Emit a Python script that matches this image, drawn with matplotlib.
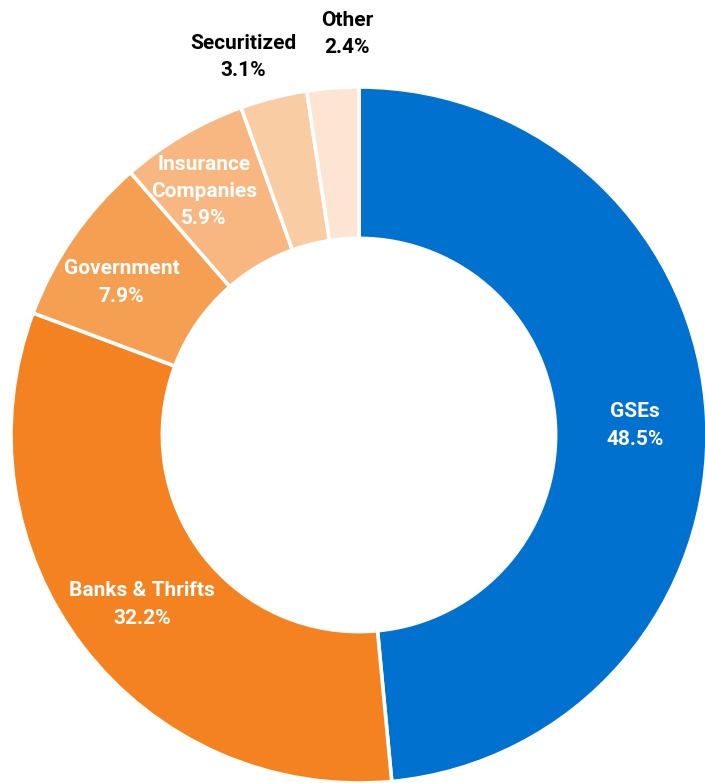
import numpy as np
import matplotlib.pyplot as plt

holders = ['GSEs', 'Banks & Thrifts', 'Government', 'Insurance\nCompanies', 'Securitized', 'Other']
shares = [48.5, 32.2, 7.9, 5.9, 3.1, 2.4]
colors = ['#0071CE', '#F58220', '#F59F52', '#F8B781', '#FACCA4', '#FDE4D3']

plt.rcParams['font.family'] = ['Roboto', 'DejaVu Sans']

W, H, DPI = 705, 783, 100
fig = plt.figure(figsize=(W / DPI, H / DPI), dpi=DPI)
ax = fig.add_axes([0, 0, 1, 1])

wedges, _ = ax.pie(shares, colors=colors, startangle=90, counterclock=False,
                   radius=1.0, wedgeprops=dict(width=0.435, edgecolor='white', linewidth=2.6))
for w in wedges:
    w.set_clip_on(False)

# ring centre and radius in pixels; pie() resets the limits, so set them afterwards
cx, cy, R = 359, 435, 348
ax.set_aspect('auto')
ax.set_xlim(-cx / R, (W - cx) / R)
ax.set_ylim(-(H - cy) / R, cy / R)
ax.axis('off')

# labels: inside the ring for big slices, outside for the two small ones
label_r = [0.785, 0.785, 0.83, 0.80, 1.13, 1.17]
label_dx = [0.01, 0.0, 0.0, -0.04, -0.055, 0.055]
label_dy = [-0.01, -0.01, -0.035, 0.01, -0.01, -0.015]
inside = [True, True, True, True, False, False]

start = 90.0
for name, v, r, dx, dy, ins in zip(holders, shares, label_r, label_dx, label_dy, inside):
    mid = np.deg2rad(start - v * 3.6 / 2)
    start -= v * 3.6
    x = r * np.cos(mid) + dx
    y = r * np.sin(mid) + dy
    ax.text(x, y, f'{name}\n{v:.1f}%', ha='center', va='center', fontsize=15,
            fontweight='bold', linespacing=1.55,
            color='white' if ins else 'black')

fig.savefig('out.png', dpi=DPI)
